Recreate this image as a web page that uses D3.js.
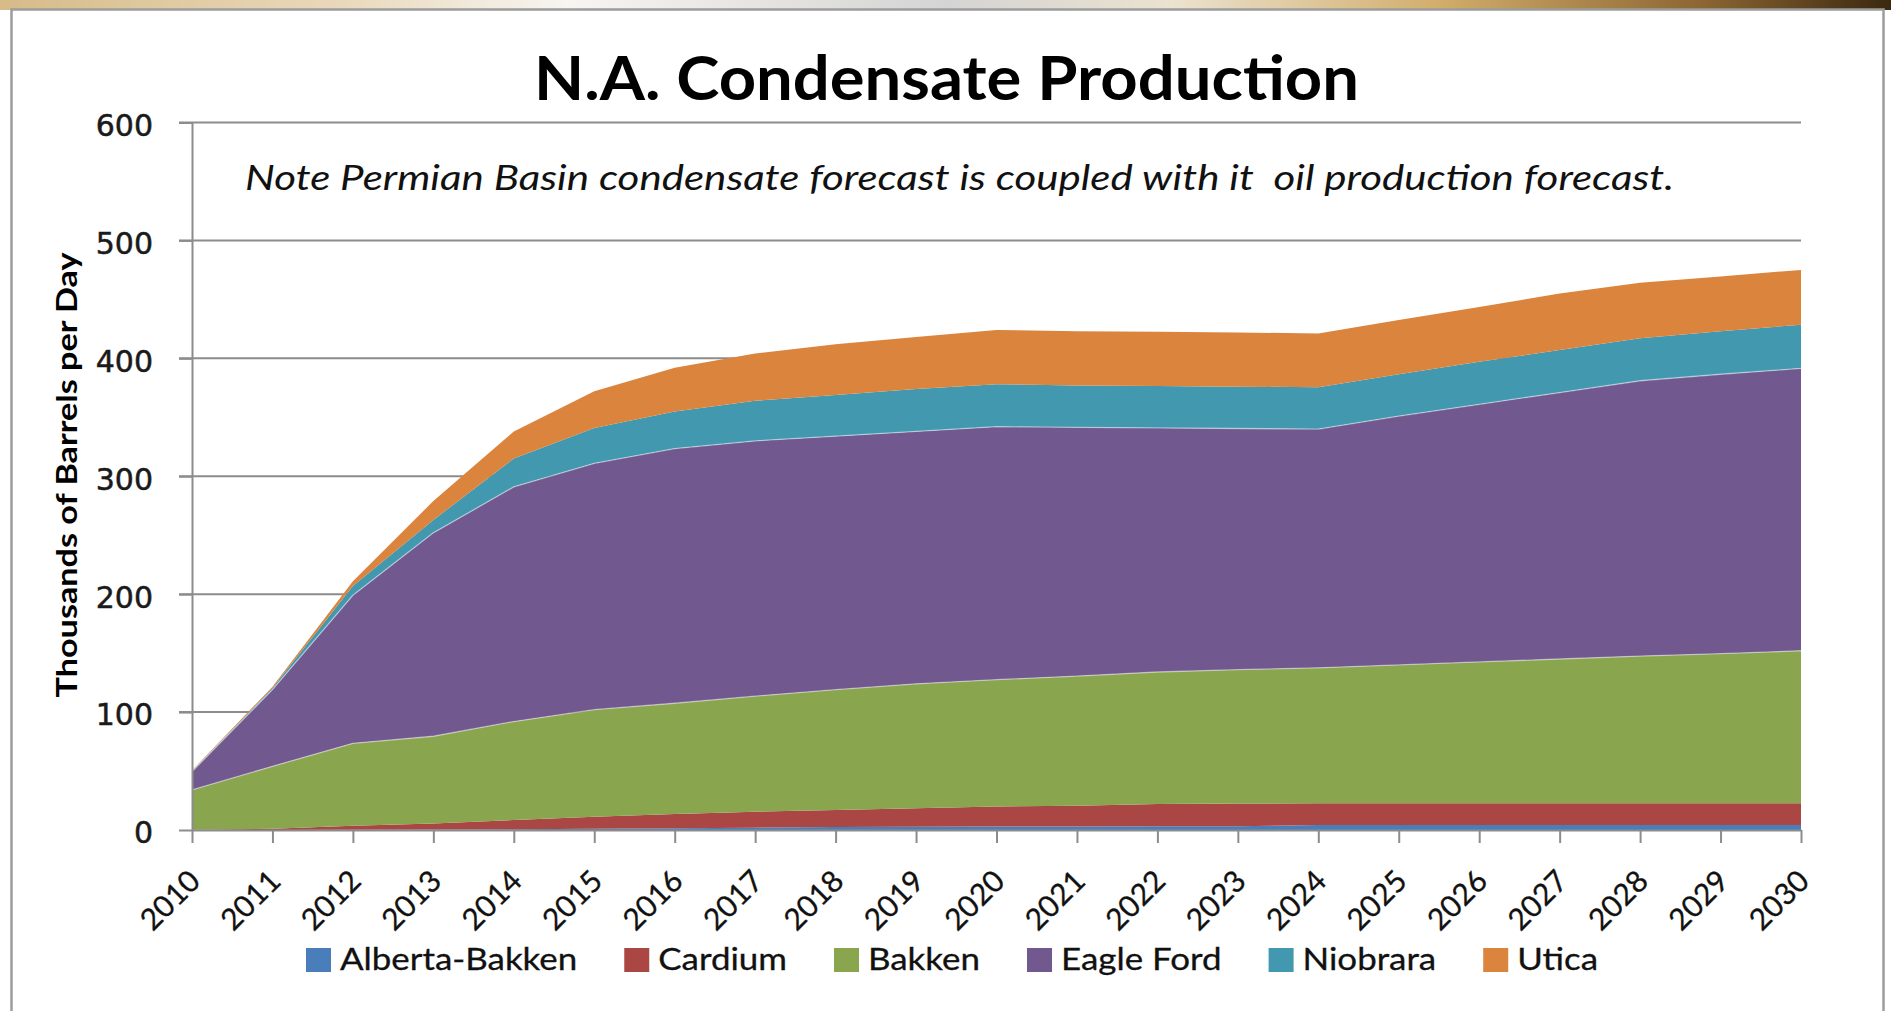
<!DOCTYPE html>
<html>
<head>
<meta charset="utf-8">
<script src="https://cdn.jsdelivr.net/npm/d3@7"></script>
<style>
html,body{margin:0;padding:0;background:#fff;overflow:hidden}
svg{display:block}
</style>
</head>
<body>
<svg id="chart" width="1891" height="1011"></svg>
<script>
// ---------------- data ----------------
const years = [2010,2011,2012,2013,2014,2015,2016,2017,2018,2019,2020,2021,2022,2023,2024,2025,2026,2027,2028,2029,2030];
const seriesNames = ["Alberta-Bakken","Cardium","Bakken","Eagle Ford","Niobrara","Utica"];
const albertaBakken = [0,0,0.3,0.5,0.6,1,1.5,2,2.5,2.8,3,3,3.1,3.2,4.3,4.3,4.3,4.3,4.3,4.3,4.3];
const cardium       = [0.3,1,3.2,5,7.9,10.3,12.1,13.5,14.5,15.7,17,17.5,18.9,19.3,18.3,18.3,18.3,18.3,18.3,18.3,18.3];
const bakken        = [33.7,53,70,74,83.5,90.7,93.9,98,102,105.5,107.5,110,112,113.5,114.9,117.4,119.9,122.4,124.9,126.9,129.4];
const eagleFord     = [15.5,65,125.5,172.5,199,209,216,216.5,215,214,214.5,211,207,204.5,202.5,211,218.5,226,233.5,237,239.5];
const niobrara      = [0.5,1.5,8,11,24,30,31.5,34,35,36,36,35.5,35.5,35.5,35.5,35.5,36,36,36,36.5,37];
const utica         = [0.5,1,4,16,23,31,37,40,43,44,46,46,46,46,45.5,46,46.5,48,47,46.5,46.5];
const yTicks = [0,100,200,300,400,500,600];
const titleText = "N.A. Condensate Production";
const noteText = "Note Permian Basin condensate forecast is coupled with it  oil production forecast.";
const yLabelText = "Thousands of Barrels per Day";
const colors = ["#4A7EBB","#AA4643","#89A54E","#71588F","#4198AF","#DB843D"];

const seriesValues = [albertaBakken, cardium, bakken, eagleFord, niobrara, utica];
const table = years.map((yr, i) => {
  const row = {year: yr};
  seriesNames.forEach((n, k) => row[n] = seriesValues[k][i]);
  return row;
});

// ---------------- frame ----------------
const svg = d3.select("#chart");
const defs = svg.append("defs");
const grad = defs.append("linearGradient").attr("id","band").attr("x1","0").attr("x2","1").attr("y1","0").attr("y2","0");
[[0,"#d6bb88"],[0.18,"#e9d9bb"],[0.3,"#f7f5f1"],[0.5,"#d4d4d4"],[0.62,"#ebe2cf"],[0.76,"#d2ae6c"],[0.9,"#8c6632"],[1,"#3a2810"]]
  .forEach(([o,c]) => grad.append("stop").attr("offset", o).attr("stop-color", c));

svg.append("rect").attr("width",1891).attr("height",1011).attr("fill","#fff");
svg.append("rect").attr("x",0).attr("y",0).attr("width",1891).attr("height",10).attr("fill","url(#band)");
svg.append("rect").attr("x",11.5).attr("y",9.5).attr("width",1872).attr("height",1100)
  .attr("fill","#fff").attr("stroke","#9c9c9c").attr("stroke-width",2.5);

// ---------------- scales ----------------
const x = d3.scaleLinear().domain([2010,2030]).range([192,1801]);
const y = d3.scaleLinear().domain([0,600]).range([830,122.5]);

// gridlines
svg.append("g").selectAll("line").data(yTicks.filter(v => v > 0)).join("line")
  .attr("x1",179).attr("x2",x(2030))
  .attr("y1",d => y(d)).attr("y2",d => y(d))
  .attr("stroke","#8c8c8c").attr("stroke-width",2);

// ---------------- areas ----------------
const stacked = d3.stack().keys(seriesNames)(table);
const area = d3.area().x(d => x(d.data.year)).y0(d => y(d[0])).y1(d => y(d[1]));
svg.append("g").selectAll("path").data(stacked).join("path")
  .attr("d", area).attr("fill", (d,i) => colors[i]);

const topLine = d3.line().x(d => x(d.data.year)).y(d => y(d[1]));
svg.append("g").selectAll("path").data(stacked.filter((s,i) => i === 2 || i === 3)).join("path")
  .attr("d", topLine).attr("fill","none")
  .attr("stroke","rgba(255,255,255,0.45)").attr("stroke-width",1.3);

// ---------------- axes ----------------
const yAxis = svg.append("g").attr("transform",`translate(${x(2010)},0)`)
  .call(d3.axisLeft(y).tickValues(yTicks).tickSize(13).tickSizeOuter(0).tickPadding(26));
yAxis.selectAll("path,line").attr("stroke","#8c8c8c").attr("stroke-width",2);
yAxis.selectAll("text").attr("dy","0.43em")
  .style("font-family","'DejaVu Sans', Verdana, sans-serif").style("font-size","30px")
  .attr("fill","#1a1a1a").attr("stroke","#1a1a1a").attr("stroke-width",0.5);

const xAxis = svg.append("g").attr("transform",`translate(0,${y(0)})`)
  .call(d3.axisBottom(x).tickValues(years).tickSize(13).tickSizeOuter(0).tickFormat(d3.format("d")));
xAxis.selectAll("path,line").attr("stroke","#8c8c8c").attr("stroke-width",2);
xAxis.selectAll("text")
  .attr("x",0).attr("y",0).attr("dy",null)
  .attr("text-anchor","end")
  .attr("transform","translate(9.5,53) rotate(-45)")
  .style("font-family","Lato, 'Open Sans', sans-serif").style("font-size","30px")
  .attr("fill","#111").attr("stroke","#111").attr("stroke-width",0.3);

// ---------------- texts ----------------
svg.append("text").attr("x",946.5).attr("y",100).attr("text-anchor","middle")
  .attr("textLength",825).attr("lengthAdjust","spacingAndGlyphs")
  .style("font-family","Lato, sans-serif").style("font-weight","700").style("font-size","62px")
  .attr("fill","#000").text(titleText);

svg.append("text").attr("x",245).attr("y",190)
  .attr("textLength",1429).attr("lengthAdjust","spacingAndGlyphs")
  .style("white-space","pre")
  .style("font-family","Lato, sans-serif").style("font-style","italic").style("font-size","34px")
  .attr("fill","#111").text(noteText);

svg.append("text").attr("transform","translate(77,475) rotate(-90)").attr("text-anchor","middle")
  .attr("textLength",445).attr("lengthAdjust","spacingAndGlyphs")
  .style("font-family","Lato, sans-serif").style("font-weight","700").style("font-size","29px")
  .attr("fill","#000").text(yLabelText);

// ---------------- legend ----------------
const legend = svg.append("g");
const items = legend.selectAll("g").data(seriesNames).join("g");
items.append("rect").attr("width",25).attr("height",24).attr("y",948).attr("fill",(d,i) => colors[i]);
items.append("text").attr("y",970).text(d => d)
  .style("font-family","Lato, sans-serif").style("font-size","30px")
  .attr("fill","#111").attr("stroke","#111").attr("stroke-width",0.3);
const natural = [];
items.select("text").each(function(){ natural.push(this.getComputedTextLength()); });
const sq = 25, gapText = 9, gapItem = 47, legendStart = 306, legendSpan = 1292;
const stretch = (legendSpan - seriesNames.length*(sq+gapText) - (seriesNames.length-1)*gapItem) / d3.sum(natural);
let cx = legendStart;
items.each(function(d,i){
  const g = d3.select(this);
  g.select("rect").attr("x", cx);
  const w = natural[i]*stretch;
  g.select("text").attr("x", cx + sq + gapText).attr("textLength", w).attr("lengthAdjust","spacingAndGlyphs");
  cx += sq + gapText + w + gapItem;
});
</script>
</body>
</html>
